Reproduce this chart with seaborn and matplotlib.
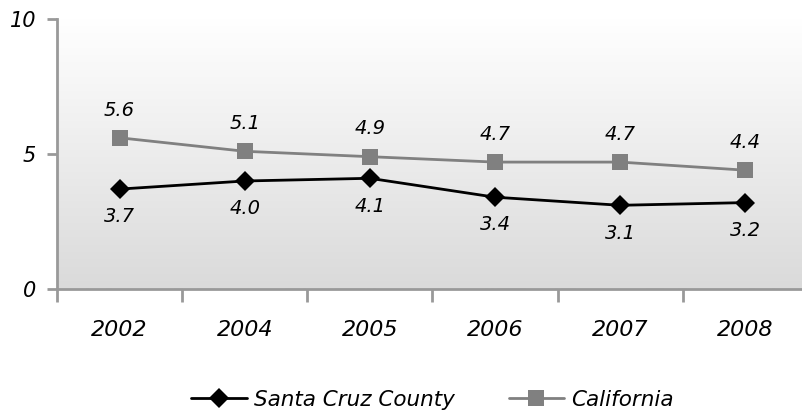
import numpy as np
import pandas as pd
import matplotlib
matplotlib.use("Agg")
import matplotlib.pyplot as plt
import seaborn as sns

years = ["2002", "2004", "2005", "2006", "2007", "2008"]
santa_cruz = [3.7, 4.0, 4.1, 3.4, 3.1, 3.2]
california = [5.6, 5.1, 4.9, 4.7, 4.7, 4.4]
series_names = ["Santa Cruz County", "California"]

df = pd.DataFrame({
    "year": years * 2,
    "value": santa_cruz + california,
    "series": [series_names[0]] * len(years) + [series_names[1]] * len(years),
})

sns.set_style("white")
plt.rcParams["font.family"] = ["DejaVu Sans"]
plt.rcParams["font.style"] = "italic"
plt.rcParams["text.color"] = "black"
plt.rcParams["xtick.color"] = "#999999"
plt.rcParams["ytick.color"] = "#999999"
plt.rcParams["xtick.labelcolor"] = "black"
plt.rcParams["ytick.labelcolor"] = "black"

fig = plt.figure(figsize=(8.03, 4.12), dpi=100)
ax = fig.add_axes([0.071, 0.2985, 0.935, 0.6555])

# gradient background, white at top to light grey at bottom
grad = np.linspace(0, 1, 256).reshape(-1, 1)
ax.imshow(grad, extent=[-0.5, 5.5, 0, 10], aspect="auto", origin="upper",
          cmap=matplotlib.colors.LinearSegmentedColormap.from_list("g", ["#ffffff", "#dadada"]),
          zorder=0)

sns.lineplot(data=df, x="year", y="value", hue="series", style="series",
             markers={"Santa Cruz County": "D", "California": "s"}, dashes=False,
             palette={"Santa Cruz County": "black", "California": "#808080"},
             markersize=10, linewidth=2, markeredgewidth=0, ax=ax, zorder=3)
for line in ax.lines:
    if line.get_marker() == "s":
        line.set_markersize(12)

for i, v in enumerate(california):
    ax.annotate(f"{v:.1f}", (i, v), xytext=(0, 20), textcoords="offset points",
                ha="center", va="center", fontsize=14, style="italic", color="black")
for i, v in enumerate(santa_cruz):
    ax.annotate(f"{v:.1f}", (i, v), xytext=(0, -20), textcoords="offset points",
                ha="center", va="center", fontsize=14, style="italic", color="black")

ax.set_xlim(-0.5, 5.5)
ax.set_ylim(0, 10)
ax.set_yticks([0, 5, 10])
ax.set_yticklabels(["0", "5", "10"], fontsize=15, style="italic")
ax.set_xticks(range(len(years)))
ax.set_xticklabels(years, fontsize=16, style="italic")
ax.set_xticks(np.arange(-0.5, 5.6, 1), minor=True)
ax.tick_params(axis="x", which="major", bottom=True, length=0, pad=22)
ax.tick_params(axis="x", which="minor", bottom=True, length=9, width=2,
               color="#999999", direction="out")
ax.tick_params(axis="y", left=True, length=7, width=2, color="#999999",
               direction="out", pad=8)
ax.set_xlabel("")
ax.set_ylabel("")

for s in ["top", "right"]:
    ax.spines[s].set_visible(False)
for s in ["left", "bottom"]:
    ax.spines[s].set_color("#999999")
    ax.spines[s].set_linewidth(2)

handles, labels = ax.get_legend_handles_labels()
ax.legend(handles, labels, loc="center", bbox_to_anchor=(0.5, -0.41), ncol=2,
          frameon=False, handlelength=2.6, columnspacing=2.5,
          handletextpad=0.3, prop={"style": "italic", "size": 15.5})

fig.savefig("out.png", dpi=100)
